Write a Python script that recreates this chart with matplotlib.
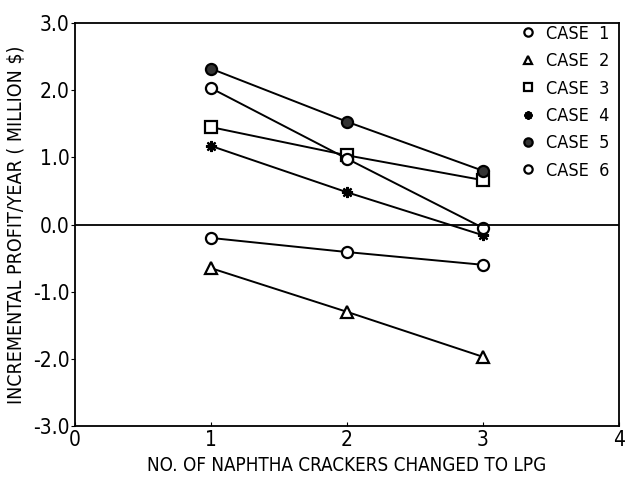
import matplotlib
matplotlib.use("Agg")
import matplotlib.pyplot as plt
from matplotlib import font_manager

# Data
crackers = [1, 2, 3]
case1 = [-0.20, -0.41, -0.60]
case2 = [-0.65, -1.30, -1.97]
case3 = [1.45, 1.03, 0.66]
case4 = [1.17, 0.48, -0.16]
case5 = [2.32, 1.53, 0.80]
case6 = [2.03, 0.98, -0.05]
case_labels = ['CASE  1', 'CASE  2', 'CASE  3', 'CASE  4', 'CASE  5', 'CASE  6']
y_ticks = [-3, -2, -1, 0, 1, 2, 3]
x_ticks = [0, 1, 2, 3, 4]

names = {f.name for f in font_manager.fontManager.ttflist}
fam = 'Liberation Sans Narrow' if 'Liberation Sans Narrow' in names else 'DejaVu Sans'
plt.rcParams['font.family'] = [fam, 'DejaVu Sans']
plt.rcParams['font.stretch'] = 'condensed'

fig = plt.figure(figsize=(6.27, 4.79), dpi=100)
ax = fig.add_axes([0.1196, 0.1106, 0.8676, 0.8414])

styles = [
    dict(marker='o', mfc='white'),
    dict(marker='^', mfc='white'),
    dict(marker='s', mfc='white'),
    dict(marker=(8, 2, 0), mfc='black'),
    dict(marker='o', mfc='#333333'),
    dict(marker='o', mfc='white'),
]
series = [case1, case2, case3, case4, case5, case6]

for vals, st, lab in zip(series, styles, case_labels):
    ax.plot(crackers, vals, color='black', lw=1.4, ms=8, mec='black', mew=1.6,
            label=lab, **st)

ax.axhline(0, color='black', lw=1.3)

ax.set_xlim(0, 4)
ax.set_ylim(-3, 3)
ax.set_xticks(x_ticks)
ax.set_xticklabels([str(v) for v in x_ticks])
ax.set_yticks(y_ticks)
ax.set_yticklabels(['%.1f' % v if v >= 0 else '-%.1f' % abs(v) for v in y_ticks])
ax.tick_params(axis='x', direction='in', length=3, labelsize=15, pad=3)
ax.tick_params(axis='y', direction='out', length=3, labelsize=15, pad=1)
for s in ax.spines.values():
    s.set_linewidth(1.3)

ax.set_xlabel('NO. OF NAPHTHA CRACKERS CHANGED TO LPG', fontsize=13.5, labelpad=4)
ax.set_ylabel('INCREMENTAL PROFIT/YEAR ( MILLION $)', fontsize=14, labelpad=5)

ax.legend(loc='upper right', bbox_to_anchor=(0.985, 1.0), frameon=False,
          fontsize=13, handlelength=0, handletextpad=1.0, labelspacing=0.52,
          borderaxespad=0.0, borderpad=0.1, markerscale=0.75)

fig.savefig('out.png', dpi=100)
